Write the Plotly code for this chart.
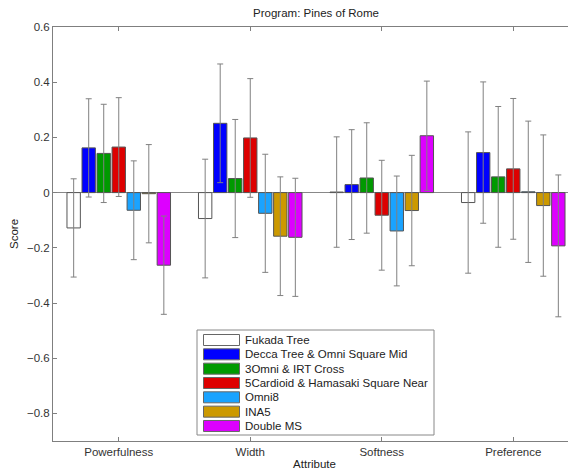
import plotly.graph_objects as go

# ---- data ----
attributes = ["Powerfulness", "Width", "Softness", "Preference"]
series_names = [
    "Fukada Tree",
    "Decca Tree & Omni Square Mid",
    "3Omni & IRT Cross",
    "5Cardioid & Hamasaki Square Near",
    "Omni8",
    "INA5",
    "Double MS",
]
fukada = [-0.128, -0.094, 0.002, -0.036]
decca = [0.162, 0.251, 0.029, 0.145]
omni3 = [0.142, 0.051, 0.053, 0.057]
cardioid5 = [0.165, 0.198, -0.082, 0.086]
omni8 = [-0.064, -0.075, -0.139, 0.003]
ina5 = [-0.004, -0.158, -0.065, -0.047]
double_ms = [-0.263, -0.162, 0.206, -0.193]

err_fukada = [0.178, 0.215, 0.200, 0.256]
err_decca = [0.178, 0.215, 0.199, 0.256]
err_omni3 = [0.178, 0.214, 0.200, 0.255]
err_cardioid5 = [0.179, 0.215, 0.199, 0.255]
err_omni8 = [0.179, 0.214, 0.199, 0.256]
err_ina5 = [0.178, 0.215, 0.200, 0.256]
err_double_ms = [0.178, 0.214, 0.198, 0.257]

values = [fukada, decca, omni3, cardioid5, omni8, ina5, double_ms]
errors = [err_fukada, err_decca, err_omni3, err_cardioid5, err_omni8, err_ina5, err_double_ms]
colors = ["#FFFFFF", "#0000FF", "#009A00", "#DD0000", "#1AA3FF", "#CC9900", "#DD00FF"]

# ---- layout constants ----
OFF = 8  # default page body margin
W, H = 576 - OFF, 472 - OFF
L, R, T, B = 53 - OFF, 0, 27 - OFF, 31
FONT = "Liberation Sans, Arial, Helvetica, sans-serif"
FS = 11.5
AX = "#7f7f7f"

fig = go.Figure()
xpos = list(range(1, len(attributes) + 1))
for name, vals, errs, col in zip(series_names, values, errors, colors):
    fig.add_trace(go.Bar(
        x=xpos, y=vals, name=name,
        marker=dict(color=col, line=dict(color="#555555", width=1)),
        error_y=dict(type="data", array=errs, visible=True,
                     color="#808080", thickness=1, width=3),
        showlegend=False,
    ))

pw = W - L - R
ph = H - T - B

def px_x(p):  # p in screen (reference) pixels
    return (p - OFF - L) / pw

def px_y(p):
    return (H - B - (p - OFF)) / ph

# manual legend (MATLAB style wide swatches)
shapes = [dict(type="rect", xref="paper", yref="paper",
               x0=px_x(197), x1=px_x(434), y0=px_y(435), y1=px_y(330),
               fillcolor="white", line=dict(color="#888888", width=1), layer="above")]
annotations = []
for i, (name, col) in enumerate(zip(series_names, colors)):
    yc = 340.0 + i * 14.33
    shapes.append(dict(type="rect", xref="paper", yref="paper",
                       x0=px_x(203.5), x1=px_x(239.5),
                       y0=px_y(yc + 5.5), y1=px_y(yc - 5.5),
                       fillcolor=col, line=dict(color="#666666", width=1), layer="above"))
    annotations.append(dict(xref="paper", yref="paper", x=px_x(243), y=px_y(yc),
                            text=name, showarrow=False, xanchor="left", yanchor="middle",
                            font=dict(family=FONT, size=FS, color="#222222")))

fig.update_layout(
    width=W, height=H,
    margin=dict(l=L, r=R, t=T, b=B, autoexpand=False),
    paper_bgcolor="white", plot_bgcolor="white",
    barmode="group", bargap=0.2, bargroupgap=0.11,
    font=dict(family=FONT, size=FS, color="#333333"),
    title=dict(text="Program: Pines of Rome", xref="paper", x=px_x(316), xanchor="center",
               yref="container", y=1 - (13 - OFF) / H, yanchor="middle",
               font=dict(family=FONT, size=FS, color="#222222")),
    xaxis=dict(range=[0.5, 0.5 + pw / 131.5], tickvals=xpos, ticktext=attributes,
               showgrid=False, zeroline=False, showline=True, linecolor=AX, linewidth=1,
               mirror="ticks", ticks="inside", ticklen=4, tickcolor=AX,
               title=dict(text="Attribute", standoff=3, font=dict(family=FONT, size=FS, color="#222222")),
               automargin=False),
    yaxis=dict(range=[-0.9, 0.6], tickvals=[-0.8, -0.6, -0.4, -0.2, 0, 0.2, 0.4, 0.6],
               ticktext=["\u22120.8", "\u22120.6", "\u22120.4", "\u22120.2", "0", "0.2", "0.4", "0.6"],
               showgrid=False, zeroline=True, zerolinecolor="#888888", zerolinewidth=1,
               showline=True, linecolor=AX, linewidth=1,
               mirror="ticks", ticks="inside", ticklen=4, tickcolor=AX,
               title=dict(text="Score", standoff=8, font=dict(family=FONT, size=FS, color="#222222")),
               automargin=False),
    shapes=shapes,
    annotations=annotations,
)

fig.write_html("out.html")
